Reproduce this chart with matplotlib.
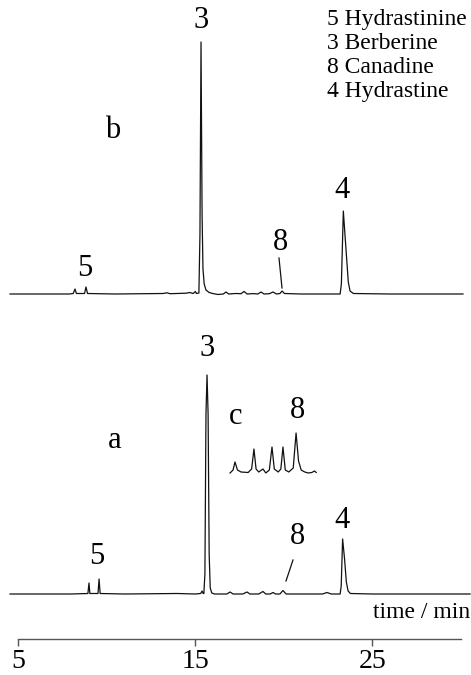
import matplotlib
matplotlib.use("Agg")
import matplotlib.pyplot as plt

plt.rcParams['font.family'] = ['Liberation Serif', 'DejaVu Serif']

# trace b (upper chromatogram), time in min, signal in arbitrary units
b_time = [4.55, 7.9, 8.12, 8.22, 8.30, 8.76, 8.84, 8.93, 10.5, 13.2, 13.4, 13.6,
          14.5, 14.7, 14.9, 15.02, 15.08, 15.22, 15.28, 15.34, 15.40, 15.45, 15.52,
          15.62, 15.80, 16.0, 16.3, 16.6, 16.75, 16.9, 17.3, 17.6, 17.77, 17.95,
          18.3, 18.55, 18.73, 18.9, 19.2, 19.41, 19.6, 19.8, 19.92, 20.05, 21.0,
          23.20, 23.27, 23.38, 23.47, 23.57, 23.66, 23.76, 23.95, 26.0, 30.14]
b_signal = [0, 0, 0.5, 5, 0.5, 0.5, 7, 0.5, 0, 0.5, 1.2, 0.3,
            0.8, 1.5, 0.5, 2.5, 0.5, 1, 60, 252, 80, 25, 10,
            4, 1.5, 0.5, -0.5, 0, 2, 0, 0.5, 0.3, 2.5, 0,
            0.4, 0, 2, 0, 0.3, 2, 0, 0.5, 3, 0.5, 0,
            0, 10, 83, 60, 35, 12, 3, 0.5, 0, 0]

# trace a (lower chromatogram)
a_time = [4.55, 8.0, 8.95, 9.01, 9.06, 9.52, 9.58, 9.64, 11.0, 14.0, 15.0,
          15.32, 15.40, 15.46, 15.50, 15.56, 15.62, 15.68, 15.74, 15.80, 15.86,
          15.95, 16.1, 16.8, 16.98, 17.15, 17.7, 17.94, 18.1, 18.6, 18.84, 19.0,
          19.25, 19.41, 19.55, 19.8, 19.97, 20.15, 22.2, 22.46, 22.7,
          23.20, 23.26, 23.34, 23.45, 23.55, 23.65, 23.78, 25.0, 30.54]
a_signal = [0, 0, 0.5, 11, 0.5, 0.5, 15, 0.5, 0, 0.5, 0,
            0.5, 3, 0.5, 0.5, 20, 180, 219, 180, 40, 6,
            1, 0, 0, 2, 0, 0, 2, 0, 0, 2.5, 0,
            0, 1.5, 0, 0, 3.5, 0, 0, 1.5, 0,
            0, 8, 55, 35, 12, 3, 0.5, 0, 0]

# inset c: expanded 17-22 min region of trace a
c_time = [16.98, 17.15, 17.26, 17.40, 17.6, 18.0, 18.2, 18.33, 18.45, 18.6,
          18.84, 19.0, 19.2, 19.35, 19.48, 19.7, 19.85, 19.97, 20.10, 20.3,
          20.55, 20.71, 20.85, 21.0, 21.2, 21.4, 21.6, 21.75, 21.85]
c_signal = [0, 3, 11, 3, 1, 0.5, 4, 24, 4, 1,
            4, 0, 3, 26, 4, 1, 4, 26, 3, 1,
            5, 40, 12, 3, 1, 0, 0.5, 2, 0.5]

legend_lines = ['5 Hydrastinine', '3 Berberine', '8 Canadine', '4 Hydrastine']
x_ticks = [5, 15, 25]


def px_t(x):
    # figure pixel column -> retention time
    return 5 + (x - 18) / 17.7


def px_s(y):
    # figure pixel row -> signal units of trace a
    return 594 - y


B_OFF = 300
C_OFF = 121

fig = plt.figure(figsize=(4.71, 6.75), dpi=100)
ax = fig.add_axes([0, 0, 1, 1])
ax.set_xlim(px_t(0), px_t(471))
ax.set_ylim(px_s(675), px_s(0))
ax.axis('off')

lc = '#111111'
lw = 0.9
ax.plot(b_time, [s + B_OFF for s in b_signal], color=lc, lw=lw)
ax.plot(a_time, a_signal, color=lc, lw=lw)
ax.plot(c_time, [s + C_OFF for s in c_signal], color=lc, lw=lw)

fs = 22
# peak labels, trace b
ax.text(px_t(201), px_s(21), '3', fontsize=fs, ha='center', va='center')
ax.text(px_t(85), px_s(268), '5', fontsize=fs, ha='center', va='center')
ax.text(px_t(281), px_s(243), '8', fontsize=fs, ha='center', va='center')
ax.text(px_t(342), px_s(190), '4', fontsize=fs, ha='center', va='center')
ax.text(px_t(113), px_s(131), 'b', fontsize=fs, ha='center', va='center')
ax.plot([px_t(279), px_t(282)], [px_s(258), px_s(288)], color=lc, lw=lw)

# peak labels, trace a
ax.text(px_t(207), px_s(349), '3', fontsize=fs, ha='center', va='center')
ax.text(px_t(97), px_s(557), '5', fontsize=fs, ha='center', va='center')
ax.text(px_t(298), px_s(537), '8', fontsize=fs, ha='center', va='center')
ax.text(px_t(342), px_s(520), '4', fontsize=fs, ha='center', va='center')
ax.text(px_t(115), px_s(441), 'a', fontsize=fs, ha='center', va='center')
ax.plot([px_t(293), px_t(286)], [px_s(560), px_s(581)], color=lc, lw=lw)

# inset labels
ax.text(px_t(236), px_s(416), 'c', fontsize=fs, ha='center', va='center')
ax.text(px_t(298), px_s(410), '8', fontsize=fs, ha='center', va='center')

for i, line in enumerate(legend_lines):
    ax.text(px_t(327), px_s(19 + 24.3 * i), line, fontsize=17, ha='left', va='center')

ax.text(px_t(470), px_s(613), 'time / min', fontsize=17, ha='right', va='center')

# time axis
ax2 = fig.add_axes([18 / 471, 36 / 675, 443 / 471, 0.001])
ax2.set_xlim(5, 30)
ax2.set_yticks([])
for side in ['top', 'left', 'right']:
    ax2.spines[side].set_visible(False)
ax2.spines['bottom'].set_color('#555555')
ax2.spines['bottom'].set_linewidth(1.0)
ax2.set_xticks(x_ticks)
ax2.set_xticklabels([str(t) for t in x_ticks])
ax2.tick_params(axis='x', direction='out', length=5, width=1, color='#555555',
                labelsize=20, pad=2)
ax2.patch.set_alpha(0)

fig.savefig('out.png', dpi=100)
